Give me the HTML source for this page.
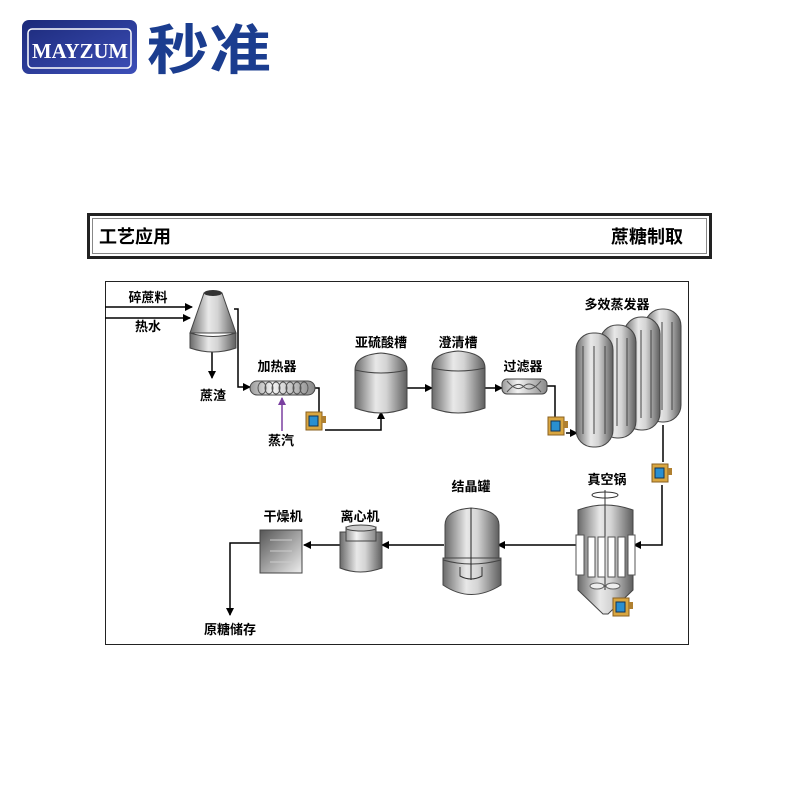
<!DOCTYPE html>
<html><head><meta charset="utf-8"><style>
body{margin:0;background:#fff;width:800px;height:800px;overflow:hidden;font-family:"Liberation Sans","Noto Sans CJK SC",sans-serif}
</style></head><body>
<svg width="800" height="800" viewBox="0 0 800 800" xmlns="http://www.w3.org/2000/svg" font-family="Liberation Sans, Noto Sans CJK SC, sans-serif">
<defs>
<linearGradient id="logo" x1="0" y1="0" x2="1" y2="1"><stop offset="0" stop-color="#1c2a7a"/><stop offset="1" stop-color="#3d4fb8"/></linearGradient>
<linearGradient id="cyl" x1="0" x2="1"><stop offset="0" stop-color="#6a6a6a"/><stop offset="0.4" stop-color="#e8e8e8"/><stop offset="0.6" stop-color="#d4d4d4"/><stop offset="1" stop-color="#5e5e5e"/></linearGradient>
<linearGradient id="cylL" x1="0" x2="1"><stop offset="0" stop-color="#999"/><stop offset="0.35" stop-color="#f4f4f4"/><stop offset="1" stop-color="#888"/></linearGradient>
<linearGradient id="dry" x1="0" y1="0" x2="1" y2="1"><stop offset="0" stop-color="#555"/><stop offset="1" stop-color="#eee"/></linearGradient>
<marker id="ar" markerWidth="8" markerHeight="8" refX="7" refY="4" orient="auto" markerUnits="userSpaceOnUse"><path d="M0,0 L8,4 L0,8z" fill="#000"/></marker>
<marker id="arp" markerWidth="8" markerHeight="8" refX="7" refY="4" orient="auto" markerUnits="userSpaceOnUse"><path d="M0,0 L8,4 L0,8z" fill="#7a3fa0"/></marker>
<g id="pump"><rect x="0" y="2" width="16" height="18" fill="#d9a640" stroke="#8a6020"/><rect x="3" y="6" width="9" height="10" fill="#2a8fd0" stroke="#135"/><rect x="16" y="6" width="4" height="7" fill="#b08030"/></g>
</defs>
<!-- logo -->
<rect x="22" y="20" width="115" height="54" rx="7" fill="url(#logo)"/>
<rect x="28" y="29" width="103" height="39" rx="4" fill="none" stroke="#fff" stroke-width="1.5"/>
<text x="80" y="58" text-anchor="middle" font-size="21" font-weight="bold" fill="#fff" font-family="Liberation Serif,serif" textLength="96" lengthAdjust="spacingAndGlyphs">MAYZUM</text>
<text x="147" y="69" font-size="54" font-weight="bold" fill="#1b3d8f" textLength="124" lengthAdjust="spacingAndGlyphs">秒准</text>
<!-- header -->
<rect x="88.5" y="214.5" width="622" height="43" fill="#fff" stroke="#222" stroke-width="3"/>
<rect x="92.5" y="218.5" width="614" height="35" fill="none" stroke="#888" stroke-width="1"/>
<text x="99" y="243" font-size="18" font-weight="bold" fill="#000">工艺应用</text>
<text x="683" y="243" font-size="18" font-weight="bold" fill="#000" text-anchor="end">蔗糖制取</text>
<!-- diagram box -->
<rect x="105.5" y="281.5" width="583" height="363" fill="#fff" stroke="#222" stroke-width="1"/>
<g font-size="13" font-weight="bold" fill="#000" text-anchor="middle">
<text x="148" y="302">碎蔗料</text><text x="148" y="331">热水</text>
<text x="213" y="400">蔗渣</text><text x="277" y="371">加热器</text><text x="281" y="445">蒸汽</text>
<text x="381" y="347">亚硫酸槽</text><text x="458" y="347">澄清槽</text><text x="523" y="371">过滤器</text>
<text x="617" y="309">多效蒸发器</text><text x="607" y="484">真空锅</text><text x="471" y="491">结晶罐</text>
<text x="360" y="521">离心机</text><text x="283" y="521">干燥机</text><text x="230" y="634">原糖储存</text>
</g>
<g stroke="#000" stroke-width="1.5" fill="none">
<path d="M105,307 H192" marker-end="url(#ar)"/>
<path d="M105,318 H190" marker-end="url(#ar)"/>
<path d="M234,309 H238 V387 H250" marker-end="url(#ar)"/>
<path d="M212,350 V378" marker-end="url(#ar)"/>
<path d="M315,388 H319 V412"/>
<path d="M325,430 H381 V412" marker-end="url(#ar)"/>
<path d="M407,388 H432" marker-end="url(#ar)"/>
<path d="M485,388 H502" marker-end="url(#ar)"/>
<path d="M547,386 H555 V418"/>
<path d="M566,433 H577" marker-end="url(#ar)"/>
<path d="M663,425 V462"/>
<path d="M662,485 V545 H634" marker-end="url(#ar)"/>
<path d="M578,545 H498" marker-end="url(#ar)"/>
<path d="M444,545 H382" marker-end="url(#ar)"/>
<path d="M340,545 H304" marker-end="url(#ar)"/>
<path d="M260,543 H230 V615" marker-end="url(#ar)"/>
</g>
<path d="M282,431 V398" stroke="#7a3fa0" stroke-width="1.5" marker-end="url(#arp)"/>
<!-- cone feeder -->
<path d="M204,293 L222,293 L236,333 L190,333z" fill="url(#cyl)" stroke="#444"/>
<ellipse cx="213" cy="293" rx="9" ry="3" fill="#333"/>
<path d="M190,333 V348 Q213,356 236,348 V333 Q213,340 190,333z" fill="url(#cyl)" stroke="#444"/>
<!-- heater -->
<rect x="250" y="381" width="65" height="14" rx="7" fill="url(#cylL)" stroke="#444"/>
<g fill="none" stroke="#555"><ellipse cx="262" cy="388" rx="4" ry="6"/><ellipse cx="269" cy="388" rx="4" ry="6"/><ellipse cx="276" cy="388" rx="4" ry="6"/><ellipse cx="283" cy="388" rx="4" ry="6"/><ellipse cx="290" cy="388" rx="4" ry="6"/><ellipse cx="297" cy="388" rx="4" ry="6"/><ellipse cx="304" cy="388" rx="4" ry="6"/></g>
<use href="#pump" x="306" y="410"/>
<!-- tanks -->
<path d="M355,370 Q355,355 381,353 Q407,355 407,370 V408 Q381,418 355,408z" fill="url(#cyl)" stroke="#444"/>
<path d="M355,370 Q381,376 407,370" fill="none" stroke="#444"/>
<path d="M432,368 Q432,353 458,351 Q485,353 485,368 V408 Q458,418 432,408z" fill="url(#cyl)" stroke="#444"/>
<path d="M432,368 Q458,374 485,368" fill="none" stroke="#444"/>
<!-- filter -->
<rect x="502" y="379" width="45" height="15" rx="5" fill="url(#cylL)" stroke="#444"/>
<path d="M507,381 Q517,393 524,386 Q531,380 541,392 M507,392 Q517,380 524,387 Q531,393 541,381" stroke="#555" fill="none"/>
<use href="#pump" x="548" y="415"/>
<!-- evaporators -->
<g stroke="#444">
<g><rect x="645" y="309" width="36" height="113" rx="17" fill="url(#cyl)"/><path d="M652,322 V410 M662,322 V410 M672,322 V410" /></g>
<g><rect x="624" y="317" width="36" height="113" rx="17" fill="url(#cyl)"/><path d="M631,330 V418 M641,330 V418 M651,330 V418"/></g>
<g><rect x="600" y="325" width="36" height="113" rx="17" fill="url(#cyl)"/><path d="M607,338 V426 M617,338 V426 M627,338 V426"/></g>
<g><rect x="576" y="333" width="37" height="114" rx="17" fill="url(#cyl)"/><path d="M583,346 V434 M594,346 V434 M605,346 V434"/></g>
</g>
<use href="#pump" x="652" y="462"/>
<!-- vacuum pan -->
<ellipse cx="605" cy="495" rx="13" ry="3" fill="none" stroke="#333"/>
<path d="M578,510 Q605,500 633,510 V590 L608,614 L603,614 L578,590z" fill="url(#cyl)" stroke="#444"/>
<line x1="605" y1="490" x2="605" y2="590" stroke="#333"/>
<g fill="#fff" stroke="#555"><rect x="576" y="535" width="8" height="40"/><rect x="588" y="537" width="7" height="40"/><rect x="598" y="537" width="7" height="40"/><rect x="608" y="537" width="7" height="40"/><rect x="618" y="537" width="7" height="40"/><rect x="628" y="535" width="7" height="40"/></g>
<ellipse cx="597" cy="586" rx="7" ry="3" fill="#eee" stroke="#666"/><ellipse cx="613" cy="586" rx="7" ry="3" fill="#eee" stroke="#666"/>
<use href="#pump" x="613" y="596"/>
<!-- crystallizer -->
<path d="M445,525 Q445,510 471,508 Q499,510 499,525 V558 H445z" fill="url(#cyl)" stroke="#444"/>
<path d="M443,558 H501 V585 Q471,604 443,585z" fill="url(#cyl)" stroke="#444"/>
<path d="M443,560 Q471,568 501,560" fill="none" stroke="#444"/>
<line x1="471" y1="508" x2="471" y2="580" stroke="#222"/>
<path d="M460,567 V576 Q471,582 482,576 V567" fill="none" stroke="#333"/>
<!-- centrifuge -->
<path d="M340,532 V568 Q360,576 382,568 V532z" fill="url(#cyl)" stroke="#444"/>
<rect x="346" y="527" width="30" height="14" fill="url(#cylL)" stroke="#444"/>
<ellipse cx="361" cy="528" rx="15" ry="3" fill="#ccc" stroke="#444"/>
<!-- dryer -->
<rect x="260" y="530" width="42" height="43" fill="url(#dry)" stroke="#444"/>
<path d="M270,540 H292 M270,551 H292 M270,562 H292" stroke="#ccc"/>
</svg>
</body></html>
